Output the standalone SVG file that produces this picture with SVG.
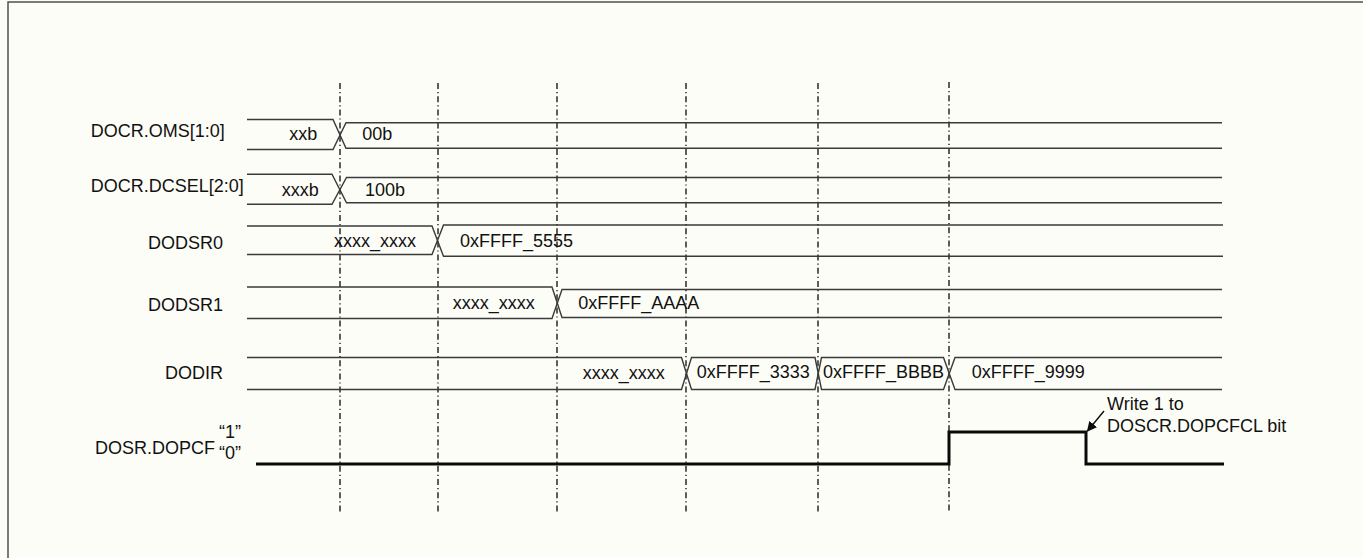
<svg xmlns="http://www.w3.org/2000/svg" width="1363" height="558" viewBox="0 0 1363 558">
<style>
text{font-family:"Liberation Sans",Arial,sans-serif;font-size:18px;fill:#111}
.sig{fill:none;stroke:#3a3a3a;stroke-width:1.4}
.lvl{fill:none;stroke:#0a0a0a;stroke-width:3}
.grid{stroke:#1a1a1a;stroke-width:1.4;stroke-dasharray:6 3 1.2 3}
.r{text-anchor:end}
</style>
<defs>
<marker id="ah" markerWidth="10" markerHeight="10" refX="9" refY="5" orient="auto" markerUnits="userSpaceOnUse">
<path d="M0,0 L10,5 L0,10 Z" fill="#0a0a0a"/>
</marker>
</defs>
<rect x="0" y="0" width="1363" height="558" fill="#fdfdf7"/>
<rect x="8" y="2" width="1400" height="600" fill="none" stroke="#444" stroke-width="1.4"/>

<g id="labels">
<text x="90.7" y="136.7">DOCR.OMS[1:0]</text>
<text x="90.7" y="192.3">DOCR.DCSEL[2:0]</text>
<text class="r" x="223" y="249">DODSR0</text>
<text class="r" x="223" y="310.7">DODSR1</text>
<text class="r" x="223" y="379.3">DODIR</text>
<text x="95" y="454.3">DOSR.DOPCF</text>
<text x="219" y="437.7">“1”</text>
<text x="219" y="459.3">“0”</text>
</g>

<g id="grid">
<line class="grid" x1="340" y1="83" x2="340" y2="513"/>
<line class="grid" x1="438" y1="83" x2="438" y2="513"/>
<line class="grid" x1="557" y1="83" x2="557" y2="513"/>
<line class="grid" x1="686" y1="83" x2="686" y2="513"/>
<line class="grid" x1="818" y1="83" x2="818" y2="513"/>
<line class="grid" x1="949" y1="82" x2="949" y2="513"/>
</g>

<g id="row-oms">
<polyline class="sig" points="247,119.5 333,119.5 346,148.3 1222,148.3"/>
<polyline class="sig" points="247,149.5 333,149.5 346,122.7 1222,122.7"/>
<text x="289.3" y="140">xxb</text>
<text x="362.3" y="140">00b</text>
</g>

<g id="row-dcsel">
<polyline class="sig" points="247,174.3 332,174.3 346.5,202.7 1222,202.7"/>
<polyline class="sig" points="247,204.3 332,204.3 346.5,177.5 1222,177.5"/>
<text x="281.7" y="195.7">xxxb</text>
<text x="365" y="195.7">100b</text>
</g>

<g id="row-dodsr0">
<polyline class="sig" points="247,226 432,226 443.5,256.3 1223,256.3"/>
<polyline class="sig" points="247,254.5 432,254.5 443.5,225 1223,225"/>
<text x="334" y="246.7">xxxx_xxxx</text>
<text x="460" y="246.7">0xFFFF_5555</text>
</g>

<g id="row-dodsr1">
<polyline class="sig" points="247,287 552,287 562,317.5 1222,317.5"/>
<polyline class="sig" points="247,318.5 552,318.5 562,289.5 1222,289.5"/>
<text x="452.7" y="308.5">xxxx_xxxx</text>
<text x="578.3" y="309">0xFFFF_AAAA</text>
</g>

<g id="row-dodir">
<polyline class="sig" points="247,357.5 681.5,357.5 691.5,389.5 815,389.5 821.5,357.5 943.5,357.5 955,389.5 1222,389.5"/>
<polyline class="sig" points="247,389.5 681.5,389.5 691.5,357.5 815,357.5 821.5,389.5 943.5,389.5 955,357.5 1222,357.5"/>
<text x="582.7" y="379">xxxx_xxxx</text>
<text x="696.7" y="378.3">0xFFFF_3333</text>
<text x="823" y="378.3">0xFFFF_BBBB</text>
<text x="971.7" y="378.3">0xFFFF_9999</text>
</g>

<g id="row-dopcf">
<polyline class="lvl" points="256,464 949,464 949,432 1086,432 1086,464 1224,464"/>
</g>

<g id="connectors">
<line x1="1104" y1="411" x2="1087.5" y2="431" stroke="#0a0a0a" stroke-width="1.4" marker-end="url(#ah)"/>
</g>

<g id="note">
<text x="1107" y="410">Write 1 to</text>
<text x="1107" y="431.7">DOSCR.DOPCFCL bit</text>
</g>
</svg>
